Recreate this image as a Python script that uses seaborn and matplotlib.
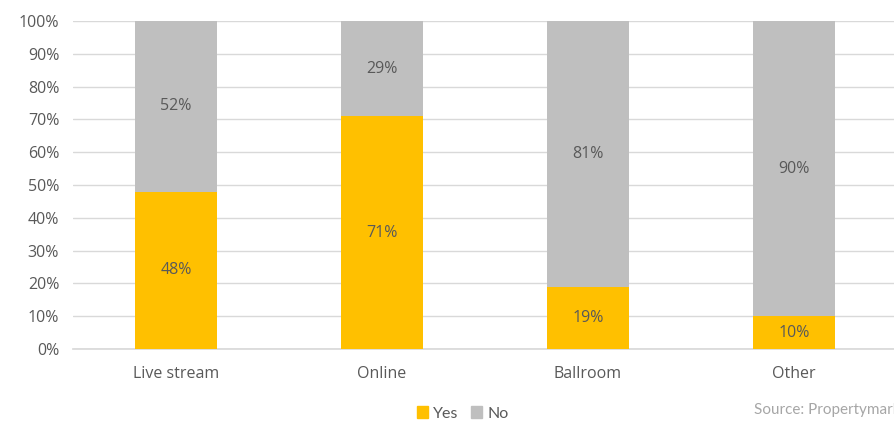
import matplotlib
matplotlib.use("Agg")
import matplotlib.pyplot as plt
import seaborn as sns
import pandas as pd
from matplotlib.patches import Patch

categories = ["Live stream", "Online", "Ballroom", "Other"]
yes_values = [48, 71, 19, 10]
no_values = [52, 29, 81, 90]
yticks = [0, 10, 20, 30, 40, 50, 60, 70, 80, 90, 100]

YES_COLOR = "#FFC000"
NO_COLOR = "#BFBFBF"
TEXT_COLOR = "#595959"

sns.set_theme(style="white")
plt.rcParams["font.family"] = ["Open Sans", "DejaVu Sans"]

df = pd.DataFrame({"category": categories, "Yes": yes_values, "No": no_values})
df["total"] = df["Yes"] + df["No"]

fig = plt.figure(figsize=(8.95, 4.21), dpi=100)
ax = fig.add_axes([0.0816, 0.171, 0.9207, 0.779])

# Stacked bars: full total in grey, "Yes" share drawn over it
sns.barplot(data=df, x="category", y="total", color=NO_COLOR, width=0.4,
            saturation=1, linewidth=0, ax=ax, zorder=3)
sns.barplot(data=df, x="category", y="Yes", color=YES_COLOR, width=0.4,
            saturation=1, linewidth=0, ax=ax, zorder=3)

for i, (y, n) in enumerate(zip(yes_values, no_values)):
    ax.text(i, y / 2, f"{y}%", ha="center", va="center", fontsize=11.5,
            color=TEXT_COLOR, zorder=4)
    ax.text(i, y + n / 2, f"{n}%", ha="center", va="center", fontsize=11.5,
            color=TEXT_COLOR, zorder=4)

ax.set_ylim(0, 100)
ax.set_xlim(-0.5, 3.5)
ax.set_yticks(yticks)
ax.set_yticklabels([f"{t}%" for t in yticks])
ax.yaxis.grid(True, color="#D9D9D9", linewidth=1, zorder=0)
ax.set_axisbelow(True)
ax.set_xlabel("")
ax.set_ylabel("")
for s in ["top", "right", "left"]:
    ax.spines[s].set_visible(False)
ax.spines["bottom"].set_color("#D9D9D9")
ax.tick_params(axis="both", length=0, labelsize=11.5, labelcolor=TEXT_COLOR)
ax.tick_params(axis="x", pad=12.5)
ax.tick_params(axis="y", pad=10)

handles = [Patch(color=YES_COLOR, label="Yes"), Patch(color=NO_COLOR, label="No")]
fig.legend(handles=handles, loc="center", bbox_to_anchor=(0.517, 0.018),
           ncol=2, frameon=False, labelcolor=TEXT_COLOR,
           handlelength=0.7, handleheight=0.7, handletextpad=0.3,
           columnspacing=0.8, prop={"family": "Lato", "size": 11.5})

fig.text(0.843, 0.025, "Source: Propertymark", fontsize=11, color="#A6A6A6",
         family="Lato", ha="left", va="center")

fig.savefig("out.png", dpi=100)
